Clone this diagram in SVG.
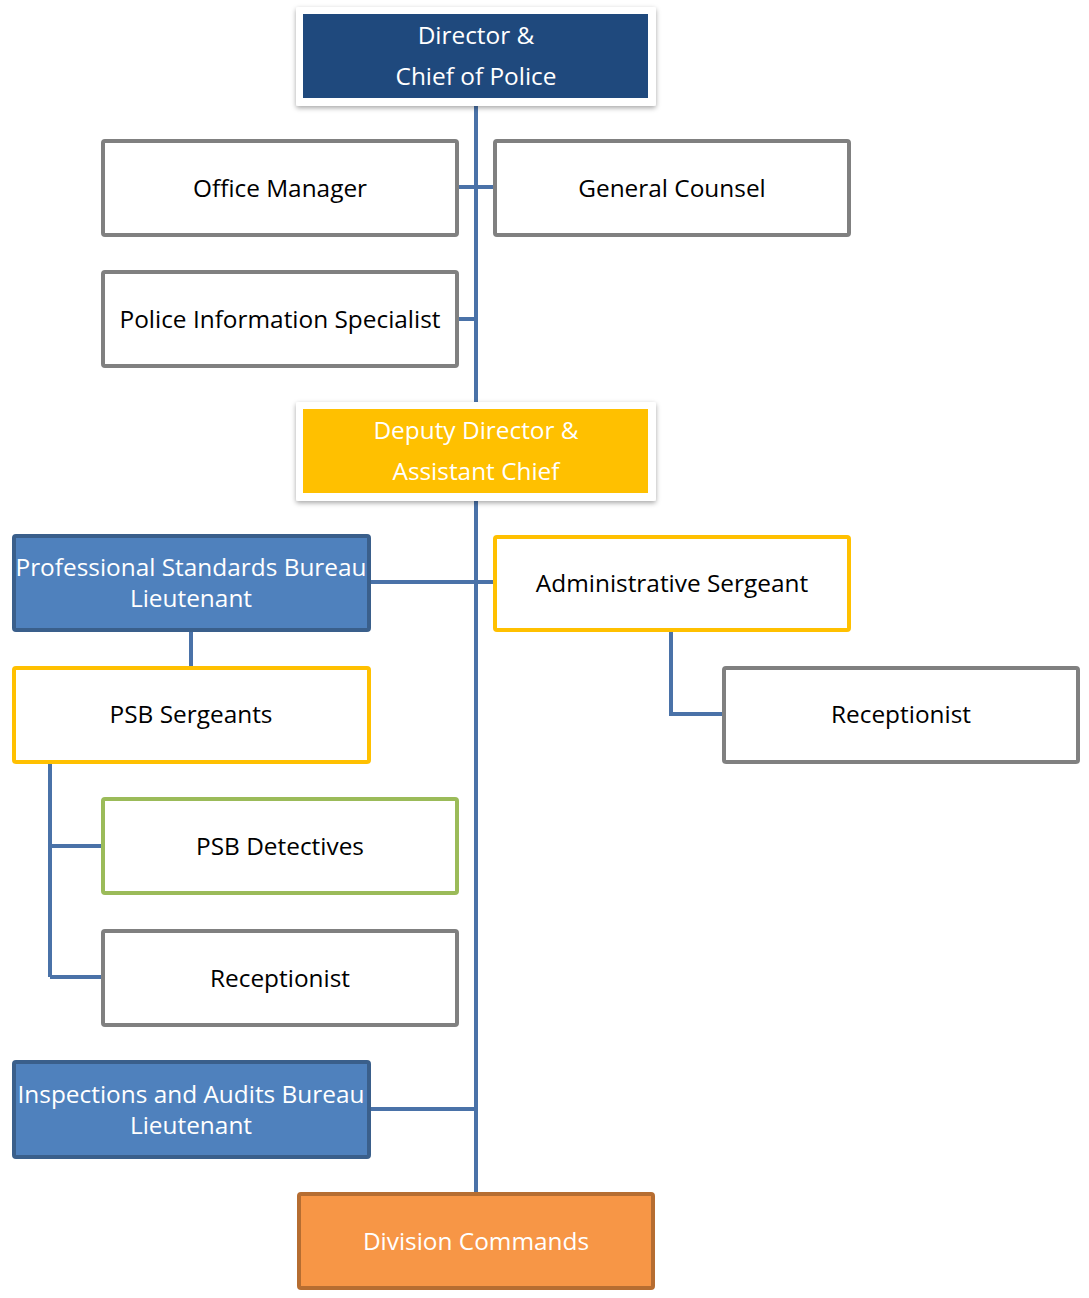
<svg xmlns="http://www.w3.org/2000/svg" width="1089" height="1298" viewBox="0 0 1089 1298">
<style>
text{font-family:"Open Sans","Liberation Sans",sans-serif;font-size:24.4px;text-anchor:middle;dominant-baseline:central}
.w{fill:#ffffff}
.k{fill:#000000}
.box{fill:#ffffff;stroke-width:4}
.gray{stroke:#808080}
.yel{stroke:#FFC000}
.grn{stroke:#9BBB59}
.blue{fill:#4F81BD;stroke:#3A5F8B;stroke-width:4}
.conn{stroke:#4A72A8;stroke-width:4;fill:none}
</style>
<defs>
<filter id="sh" x="-10%" y="-10%" width="120%" height="130%">
<feDropShadow dx="0" dy="2" stdDeviation="2.5" flood-color="#000" flood-opacity="0.35"/>
</filter>
</defs>
<g id="connectors">
<path class="conn" d="M476 104V402M476 500V1195M457 187H495M457 319H476M369 582H495M369 1109H476M671 630V714H724M191 630V668M50 762V977M50 846H103M50 977H103"/>
</g>
<g id="director">
<rect x="296" y="7" width="360" height="99" rx="2" fill="#fff" filter="url(#sh)"/>
<rect x="303" y="14" width="345" height="84" fill="#1F497D"/>
<text class="w" x="476" y="34">Director &amp;</text>
<text class="w" x="476" y="75">Chief of Police</text>
</g>
<g id="office-manager">
<rect class="box gray" x="103" y="141" width="354" height="94" rx="2"/>
<text class="k" x="280" y="187">Office Manager</text>
</g>
<g id="general-counsel">
<rect class="box gray" x="495" y="141" width="354" height="94" rx="2"/>
<text class="k" x="672" y="187">General Counsel</text>
</g>
<g id="police-info">
<rect class="box gray" x="103" y="272" width="354" height="94" rx="2"/>
<text class="k" x="280" y="318">Police Information Specialist</text>
</g>
<g id="deputy">
<rect x="296" y="402" width="360" height="99" rx="2" fill="#fff" filter="url(#sh)"/>
<rect x="303" y="409" width="345" height="84" fill="#FFC000"/>
<text class="w" x="476" y="429">Deputy Director &amp;</text>
<text class="w" x="476" y="470">Assistant Chief</text>
</g>
<g id="psb-lt">
<rect class="blue" x="14" y="536" width="355" height="94" rx="2"/>
<text class="w" x="191" y="566">Professional Standards Bureau</text>
<text class="w" x="191" y="597">Lieutenant</text>
</g>
<g id="admin-sgt">
<rect class="box yel" x="495" y="537" width="354" height="93" rx="2"/>
<text class="k" x="672" y="582">Administrative Sergeant</text>
</g>
<g id="receptionist-right">
<rect class="box gray" x="724" y="668" width="354" height="94" rx="2"/>
<text class="k" x="901" y="713">Receptionist</text>
</g>
<g id="psb-sgts">
<rect class="box yel" x="14" y="668" width="355" height="94" rx="2"/>
<text class="k" x="191" y="713">PSB Sergeants</text>
</g>
<g id="psb-detectives">
<rect class="box grn" x="103" y="799" width="354" height="94" rx="2"/>
<text class="k" x="280" y="845">PSB Detectives</text>
</g>
<g id="receptionist-left">
<rect class="box gray" x="103" y="931" width="354" height="94" rx="2"/>
<text class="k" x="280" y="977">Receptionist</text>
</g>
<g id="iab-lt">
<rect class="blue" x="14" y="1062" width="355" height="95" rx="2"/>
<text class="w" x="191" y="1093">Inspections and Audits Bureau</text>
<text class="w" x="191" y="1124">Lieutenant</text>
</g>
<g id="division">
<rect x="299" y="1194" width="354" height="94" rx="2" fill="#F79646" stroke="#B66D31" stroke-width="4"/>
<text class="w" x="476" y="1240">Division Commands</text>
</g>
</svg>
